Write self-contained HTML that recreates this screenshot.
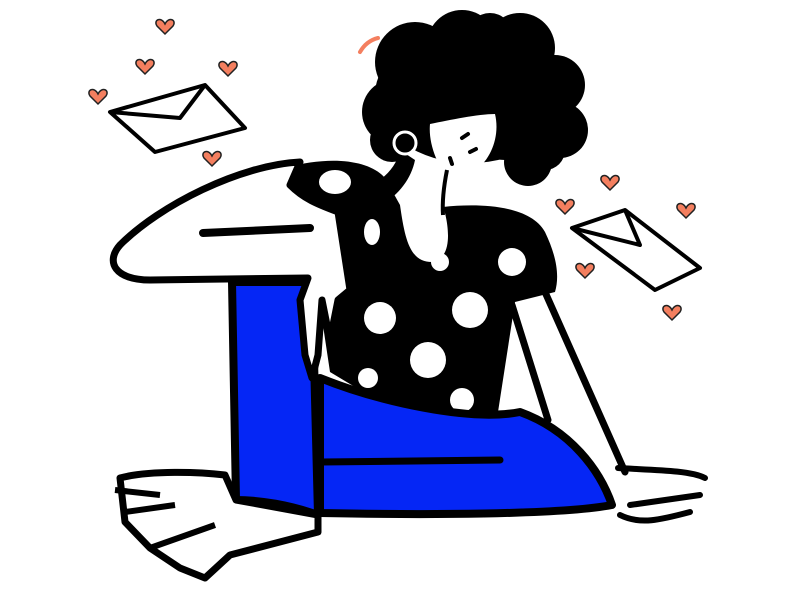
<!DOCTYPE html>
<html><head><meta charset="utf-8"><style>
html,body{margin:0;padding:0;background:#fff;}
svg{display:block}
</style></head><body>
<svg width="807" height="603" viewBox="0 0 807 603" xmlns="http://www.w3.org/2000/svg">
<defs>
<path id="h" d="M0,4 C-4,-4 -12,0 -8,6 L0,14 L8,6 C12,0 4,-4 0,4 Z"/>
</defs>
<g fill="#f47f5f" stroke="#222" stroke-width="1.5">
<use href="#h" x="165" y="20"/><use href="#h" x="145" y="60"/><use href="#h" x="228" y="62"/>
<use href="#h" x="98" y="90"/><use href="#h" x="212" y="152"/><use href="#h" x="565" y="200"/>
<use href="#h" x="610" y="176"/><use href="#h" x="686" y="204"/><use href="#h" x="585" y="264"/>
<use href="#h" x="672" y="306"/>
</g>
<path d="M360,52 C364,45 370,40 378,38" stroke="#f47f5f" stroke-width="4" fill="none" stroke-linecap="round"/>
<!-- envelopes -->
<g fill="#fff" stroke="#000" stroke-width="4" stroke-linejoin="round">
<path d="M110,112 L205,85 L245,128 L155,152 Z"/>
<path d="M110,112 L180,118 L205,85" fill="none"/>
<path d="M572,228 L625,210 L700,268 L655,290 Z"/>
<path d="M572,228 L640,245 L625,210" fill="none"/>
</g>
<!-- neck strand -->
<path d="M400,150 C395,175 370,190 340,198 L360,215 C390,205 410,185 415,160 Z" fill="#000"/>
<!-- hair -->
<g fill="#000">
<ellipse cx="470" cy="95" rx="95" ry="68"/>
<circle cx="415" cy="62" r="40"/><circle cx="462" cy="45" r="35"/><circle cx="520" cy="48" r="35"/>
<circle cx="555" cy="85" r="30"/><circle cx="560" cy="130" r="28"/><circle cx="528" cy="162" r="24"/>
<circle cx="395" cy="112" r="33"/><circle cx="505" cy="115" r="45"/>
<circle cx="392" cy="140" r="22"/><circle cx="545" cy="150" r="20"/><circle cx="490" cy="35" r="22"/>
</g>
<!-- face -->
<path d="M430,124 C450,120 478,114 495,114 C500,135 492,158 476,170 C460,178 444,170 436,158 C431,146 429,134 430,124 Z" fill="#fff"/>
<path d="M462,138 l6,-4 M470,152 l6,-3 M450,158 l2,6" stroke="#000" stroke-width="4" stroke-linecap="round"/>
<circle cx="405" cy="143" r="11" fill="none" stroke="#fff" stroke-width="3"/>
<path d="M447,170 C444,185 442,200 443,215" stroke="#000" stroke-width="4" fill="none"/>
<!-- shirt -->
<path d="M285,168 C330,155 370,160 385,178 L400,205 C405,240 410,262 432,262 C458,258 445,210 443,207 C480,203 530,205 545,232 C556,255 560,275 555,292 L515,302 L498,412 C470,422 420,415 380,402 L330,372 L318,292 L315,228 L270,215 Z" fill="#000"/>
<g fill="#fff">
<ellipse cx="372" cy="232" rx="8" ry="13"/>
<circle cx="380" cy="318" r="16"/><circle cx="428" cy="360" r="18"/>
<circle cx="470" cy="310" r="18"/><circle cx="440" cy="262" r="9"/><circle cx="512" cy="262" r="14"/>
<circle cx="462" cy="400" r="12"/><circle cx="368" cy="378" r="10"/>
</g>
<!-- right arm -->
<path d="M545,292 L625,472 M512,305 L548,420" stroke="#000" stroke-width="7" fill="none" stroke-linecap="round"/>
<!-- blue pants -->
<path d="M320,378 C380,402 470,422 520,412 C570,430 600,470 612,505 C560,515 420,515 320,513 Z" fill="#0526f5" stroke="#000" stroke-width="8" stroke-linejoin="round"/>
<path d="M232,282 L312,282 L318,515 C290,505 260,500 236,500 Z" fill="#0526f5" stroke="#000" stroke-width="8" stroke-linejoin="round"/>
<path d="M322,462 L500,460" stroke="#000" stroke-width="7" stroke-linecap="round"/>
<!-- left arm -->
<path d="M300,162 C240,165 160,205 120,245 C105,262 115,280 150,280 L308,278 L300,300 L305,355 L312,378 L318,355 L322,300 L330,340 L338,300 L350,290 L338,212 C320,205 305,200 290,185 Z" fill="#fff" stroke="#000" stroke-width="7" stroke-linejoin="round"/>
<path d="M305,170 C320,200 330,205 345,210 L380,212 L385,180 C370,160 330,158 305,170 Z" fill="#000"/>
<ellipse cx="335" cy="182" rx="16" ry="12" fill="#fff"/>
<path d="M203,233 L310,228" stroke="#000" stroke-width="8" stroke-linecap="round"/>
<!-- right hand -->
<path d="M618,468 C650,470 690,470 705,478 M630,505 L700,495 M620,515 C640,525 660,520 690,512" stroke="#000" stroke-width="6" fill="none" stroke-linecap="round"/>
<!-- feet -->
<path d="M120,478 C150,470 200,472 225,475 L236,500 L318,515 L318,532 L230,555 L205,578 L180,568 L150,548 L125,522 Z" fill="#fff" stroke="#000" stroke-width="7" stroke-linejoin="round"/>
<path d="M115,490 L160,495 M125,512 L175,505 M150,548 L215,525" stroke="#000" stroke-width="6"/>
</svg>
</body></html>
